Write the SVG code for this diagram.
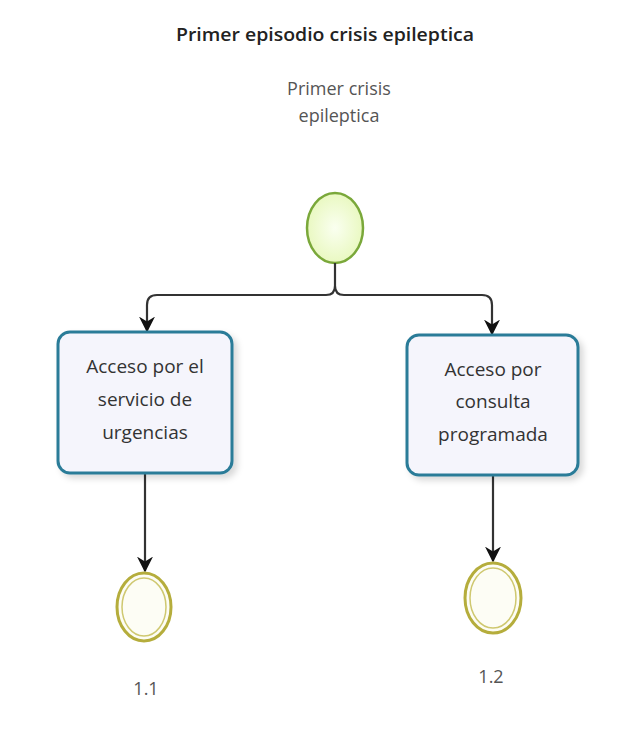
<svg xmlns="http://www.w3.org/2000/svg" width="619" height="739" viewBox="0 0 619 739">
<style>
text{font-family:"Open Sans","Noto Sans","DejaVu Sans",sans-serif;fill:#333;text-anchor:middle}
.title{font-size:18px;font-weight:600;fill:#222}
.lbl{font-size:18px;fill:#555}
.task{fill:#f5f5fc;stroke:#2b7b98;stroke-width:3}
.tt{font-size:19px;fill:#333}
.conn{fill:none;stroke:#333;stroke-width:2.2}
.end{fill:#fdfdf5;stroke:#b5ad3c;stroke-width:3}
.endi{fill:none;stroke:#cfc870;stroke-width:1.5}
</style>
<defs>
<marker id="arr" viewBox="0 0 10 10" refX="9" refY="5" markerWidth="16" markerHeight="16" orient="auto" markerUnits="userSpaceOnUse">
<path d="M0,0 L10,5 L0,10 L3,5 z" fill="#111"/>
</marker>
<radialGradient id="sg" cx="0.5" cy="0.5" r="0.6">
<stop offset="0" stop-color="#fafff0"/>
<stop offset="1" stop-color="#e6f7b8"/>
</radialGradient>
<filter id="sh" x="-10%" y="-10%" width="130%" height="130%">
<feDropShadow dx="4" dy="4" stdDeviation="3" flood-color="#000" flood-opacity="0.15"/>
</filter>
</defs>
<rect width="619" height="739" fill="#fff"/>
<text class="title" x="325" y="41" textLength="298" lengthAdjust="spacingAndGlyphs">Primer episodio crisis epileptica</text>
<g id="start">
<text class="lbl" x="339" y="95">Primer crisis</text>
<text class="lbl" x="339" y="122">epileptica</text>
<ellipse cx="335" cy="228" rx="28" ry="35" fill="url(#sg)" stroke="#7aa83a" stroke-width="2.5"/>
</g>
<g id="connectors">
<path class="conn" d="M335,263 V286 Q335,295 326,295 H157 Q147,295 147,305 V331" marker-end="url(#arr)"/>
<path class="conn" d="M335,286 Q335,295 344,295 H482 Q492,295 492,305 V334" marker-end="url(#arr)"/>
<path class="conn" d="M145,473 V571" marker-end="url(#arr)"/>
<path class="conn" d="M493,475 V561" marker-end="url(#arr)"/>
</g>
<g id="task1">
<rect class="task" x="58" y="332" width="174" height="141" rx="12" filter="url(#sh)"/>
<text class="tt" x="145" y="373">Acceso por el</text>
<text class="tt" x="145" y="406">servicio de</text>
<text class="tt" x="145" y="439">urgencias</text>
</g>
<g id="task2">
<rect class="task" x="407" y="335" width="171" height="140" rx="12" filter="url(#sh)"/>
<text class="tt" x="493" y="376">Acceso por</text>
<text class="tt" x="493" y="408">consulta</text>
<text class="tt" x="493" y="441">programada</text>
</g>
<g id="end1">
<ellipse class="end" cx="144" cy="607" rx="27" ry="34"/>
<ellipse class="endi" cx="144" cy="607" rx="22" ry="29"/>
<text class="lbl" x="146" y="695">1.1</text>
</g>
<g id="end2">
<ellipse class="end" cx="493" cy="598" rx="28" ry="35"/>
<ellipse class="endi" cx="493" cy="598" rx="23" ry="30"/>
<text class="lbl" x="491" y="683">1.2</text>
</g>
</svg>
